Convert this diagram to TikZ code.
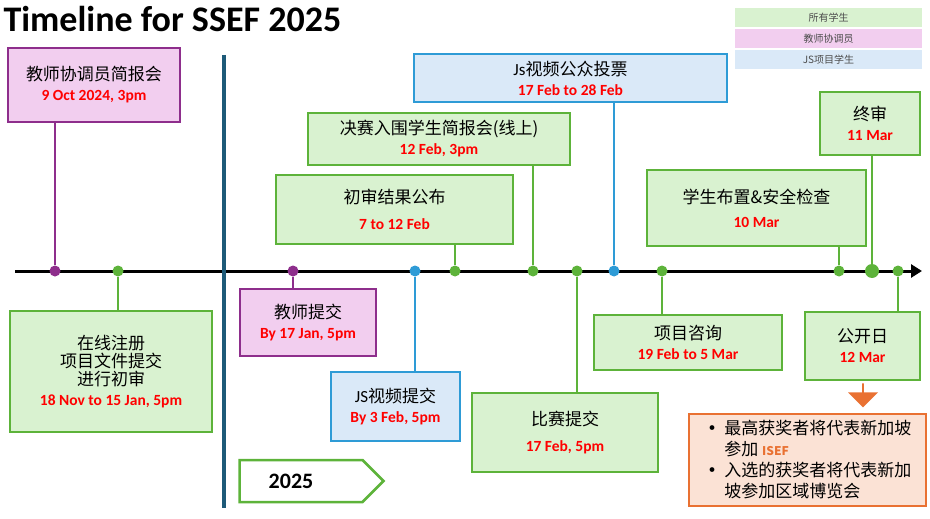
\documentclass[tikz,border=0pt]{standalone}
\usepackage{fontspec}
\setmainfont{Carlito}
\newfontfamily\cjk{Noto Sans CJK SC}
\usetikzlibrary{arrows.meta,shapes.arrows}
\definecolor{gfill}{HTML}{D9F2D0}
\definecolor{gline}{HTML}{5DB33A}
\definecolor{pfill}{HTML}{F2CEEF}
\definecolor{pline}{HTML}{8E2E8C}
\definecolor{bfill}{HTML}{DAE9F8}
\definecolor{bline}{HTML}{2E9BD6}
\definecolor{ofill}{HTML}{FBE2D5}
\definecolor{oline}{HTML}{E97132}
\definecolor{barcol}{HTML}{1D5A78}
\tikzset{
  box/.style={draw,line width=1.6pt,align=center,inner sep=2pt,font=\fontsize{17}{22}\selectfont},
  gbox/.style={box,fill=gfill,draw=gline},
  pbox/.style={box,fill=pfill,draw=pline},
  bbox/.style={box,fill=bfill,draw=bline},
  dot/.style={circle,inner sep=0pt,minimum size=11pt},
  gdot/.style={dot,fill=gline},
  pdot/.style={dot,fill=pline},
  bdot/.style={dot,fill=bline},
  leg/.style={minimum width=187pt,minimum height=19pt,inner sep=0pt,text=black!70,font=\cjk\fontsize{10}{12}\selectfont}
}
\newcommand{\dt}[1]{\\[-2pt]{\color{red}\bfseries\fontsize{15.5}{18}\selectfont #1}}
\newcommand{\dtt}[1]{{\color{red}\bfseries\fontsize{15.5}{18}\selectfont #1}}
\begin{document}
\begin{tikzpicture}[x=1pt,y=-1pt]
\useasboundingbox (0,0) rectangle (930,519);

\node[anchor=west,font=\bfseries\fontsize{36}{38}\selectfont] (title) at (0,19) {Timeline for SSEF 2025};

% legend
\node[leg,fill=gfill] (lg) at (828.5,18) {所有学生};
\node[leg,fill=pfill] (lp) at (828.5,39) {教师协调员};
\node[leg,fill=bfill] (lb) at (828.5,60) {JS项目学生};

% timeline
\draw[line width=3pt,-{Triangle[length=11pt,width=13pt]}] (15,271) coordinate (t0) -- (922,271) coordinate (t1);
\draw[barcol,line width=4.5pt] (224,55) coordinate (bar0) -- (224,508) coordinate (bar1);

% boxes
\node[pbox,minimum width=172pt,minimum height=74pt] (b1) at (94,85) {{\cjk 教师协调员简报会}\dt{9 Oct 2024, 3pm}};
\node[gbox,minimum width=202pt,minimum height=121pt] (b2) at (111,371.5) {{\cjk 在线注册}\\[-4pt]{\cjk 项目文件提交}\\[-4pt]{\cjk 进行初审}\dt{18 Nov to 15 Jan, 5pm}};
\node[pbox,minimum width=136pt,minimum height=67pt] (b3) at (308,322.5) {{\cjk 教师提交}\dt{By 17 Jan, 5pm}};
\node[bbox,minimum width=129pt,minimum height=69pt] (b4) at (395.5,406.5) {JS{\cjk 视频提交}\dt{By 3 Feb, 5pm}};
\node[gbox,minimum width=237pt,minimum height=69pt] (b5) at (394.5,209.5) {{\cjk 初审结果公布}\\[4pt]\dtt{7 to 12 Feb}};
\node[gbox,minimum width=262pt,minimum height=52pt] (b6) at (439,139) {{\cjk 决赛入围学生简报会(线上)}\dt{12 Feb, 3pm}};
\node[bbox,minimum width=313pt,minimum height=48pt] (b7) at (570.5,78) {Js{\cjk 视频公众投票}\dt{17 Feb to 28 Feb}};
\node[gbox,minimum width=186pt,minimum height=79pt] (b8) at (565,432.5) {{\cjk 比赛提交}\\[4pt]\dtt{17 Feb, 5pm}};
\node[gbox,minimum width=188pt,minimum height=55pt] (b9) at (688,342.5) {{\cjk 项目咨询}\dt{19 Feb to 5 Mar}};
\node[gbox,minimum width=219pt,minimum height=76pt] (b10) at (756.5,208) {{\cjk 学生布置\&安全检查}\\[2pt]\dtt{10 Mar}};
\node[gbox,minimum width=100pt,minimum height=63pt] (b11) at (870,123.5) {{\cjk 终审}\dt{11 Mar}};
\node[gbox,minimum width=115pt,minimum height=68pt] (b12) at (862.5,346) {{\cjk 公开日}\dt{12 Mar}};

% dots
\node[pdot] (d1) at (55,271) {};
\node[gdot] (d2) at (118,271) {};
\node[pdot] (d3) at (293,271) {};
\node[bdot] (d4) at (415,271) {};
\node[gdot] (d5) at (455,271) {};
\node[gdot] (d6) at (533,271) {};
\node[bdot] (d7) at (614,271) {};
\node[gdot] (d8) at (577,271) {};
\node[gdot] (d9) at (662,271) {};
\node[gdot] (d10) at (839,271) {};
\node[gdot,minimum size=14pt] (d11) at (872,271) {};
\node[gdot] (d12) at (898,271) {};

% connectors
\begin{scope}[line width=1.6pt]
  \draw[pline] (d1) -- (d1 |- b1.south);
  \draw[gline] (d2) -- (d2 |- b2.north);
  \draw[pline] (d3) -- (d3 |- b3.north);
  \draw[bline] (d4) -- (d4 |- b4.north);
  \draw[gline] (d5) -- (d5 |- b5.south);
  \draw[gline] (d6) -- (d6 |- b6.south);
  \draw[bline] (d7) -- (d7 |- b7.south);
  \draw[gline] (d8) -- (d8 |- b8.north);
  \draw[gline] (d9) -- (d9 |- b9.north);
  \draw[gline] (d10) -- (d10 |- b10.south);
  \draw[gline] (d11) -- (d11 |- b11.south);
  \draw[gline] (d12) -- (d12 |- b12.north);
\end{scope}

% outcome
\node[single arrow,shape border rotate=270,fill=oline,minimum height=24pt,minimum width=30pt,single arrow head extend=3pt,inner sep=0pt] (oarr) at (863,395) {};
\node[draw=oline,fill=ofill,line width=2pt,minimum width=237pt,minimum height=92pt,align=left,anchor=north west,inner sep=4pt,
  font=\cjk\fontsize{17}{21}\selectfont] (b13) at (688,413)
  {\textbf{·} 最高获奖者将代表新加坡\\\phantom{\textbf{·} }参加 {\color{oline}\bfseries\fontsize{12}{12}\selectfont ISEF}\\\textbf{·} 入选的获奖者将代表新加\\\phantom{\textbf{·} }坡参加区域博览会};

% year arrow
\node[single arrow,draw=gline,fill=white,line width=2.5pt,minimum height=144pt,minimum width=42pt,single arrow head extend=0pt,inner sep=0pt,
  font=\bfseries\fontsize{22}{24}\selectfont] (yr) at (301,481) {2025\hspace*{20pt}};
\end{tikzpicture}
\end{document}
